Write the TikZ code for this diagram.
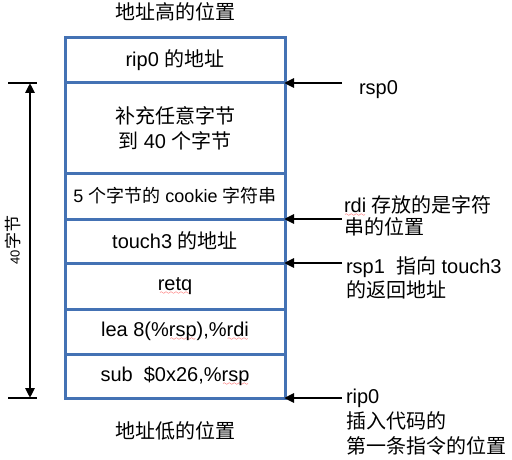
\documentclass[tikz,border=0pt]{standalone}
\usepackage{fontspec}
\setmainfont{Liberation Sans}
\newfontfamily\cjk{Noto Sans CJK SC}
\usetikzlibrary{arrows.meta}
\definecolor{boxblue}{HTML}{4472B4}
\font\wavefont=lasy6\relax
\newcommand\zh[1]{{\cjk #1}}
\newcommand\redwave[1]{\setbox0\hbox{#1}\rlap{\textcolor{red}{\lower4.5pt\hbox to\wd0{\cleaders\hbox{\wavefont\char58}\hfil}}}\box0\relax}
\begin{document}
\begin{tikzpicture}[x=1pt,y=-1pt,
  every node/.style={font=\fontsize{20pt}{24pt}\selectfont, inner sep=0pt, outer sep=0pt},
  row/.style={draw=boxblue, line width=3pt, minimum width=220pt, anchor=north, align=center},
  ptr/.style={line width=2.5pt, -{Triangle[length=10pt,width=9pt]}, shorten >=-1pt},
  dim/.style={line width=2.5pt, {Triangle[length=10pt,width=9pt]}-{Triangle[length=10pt,width=9pt]}},
  bar/.style={line width=2.5pt},
  lab/.style={anchor=base west, align=left}]
\useasboundingbox (0,0) rectangle (512,460);
% rows of the stack
\node[row, minimum height=45pt] (r1) at (175,38) {rip0 \zh{的地址}};
\node[row, minimum height=90pt, font=\fontsize{20pt}{25pt}\selectfont] (r2) at (175,83) {\zh{补充任意字节}\\\zh{到} 40 \zh{个字节}};
\node[row, minimum height=46pt, font=\fontsize{18pt}{22pt}\selectfont] (r3) at (175,173) {5 \zh{个字节的} cookie \zh{字符串}};
\node[row, minimum height=44pt] (r4) at (175,219) {touch3 \zh{的地址}};
\node[row, minimum height=46pt] (r5) at (175,263) {\redwave{retq}};
\node[row, minimum height=45pt] (r6) at (175,309) {lea 8(\%\redwave{rsp}),\%\redwave{rdi}};
\node[row, minimum height=44pt] (r7) at (175,354) {sub\ \ \$0x26,\%\redwave{rsp}};
% titles
\node (hi) at (175,12) {\zh{地址高的位置}};
\node (lo) at (175,431) {\zh{地址低的位置}};
% left dimension
\coordinate (dt) at (30,83);
\coordinate (db) at (30,398);
\coordinate (dtl) at (8,83);  \coordinate (dtr) at (37,83);
\coordinate (dbl) at (8,398); \coordinate (dbr) at (37,398);
\draw[bar] (dtl) -- (dtr);
\draw[bar] (dbl) -- (dbr);
\draw[dim] (db) -- (dt);
\node[rotate=90] (dl) at (13,240) {\fontsize{13pt}{13pt}\selectfont 40\zh{\fontsize{17pt}{17pt}\selectfont 字节}};
% right pointers
\coordinate (p0) at (342,83);
\coordinate (p1) at (342,219);
\coordinate (p2) at (342,263);
\coordinate (p3) at (342,398);
\draw[ptr] (p0) -- (r2.north east);
\draw[ptr] (p1) -- (r4.north east);
\draw[ptr] (p2) -- (r5.north east);
\draw[ptr] (p3) -- (r7.south east);
\node[lab] (l0) at (359,95) {rsp0};
\node[lab, font=\fontsize{20pt}{22pt}\selectfont] (l1) at (344,234) {\redwave{rdi} \zh{存放的是字符}\\\zh{串的位置}};
\node[lab] (l2) at (346,297) {rsp1\ \ \zh{指向} touch3\\\zh{的返回地址}};
\node[lab, font=\fontsize{20pt}{25pt}\selectfont] (l3) at (346,453) {rip0\\\zh{插入代码的}\\\zh{第一条指令的位置}};
\end{tikzpicture}
\end{document}
